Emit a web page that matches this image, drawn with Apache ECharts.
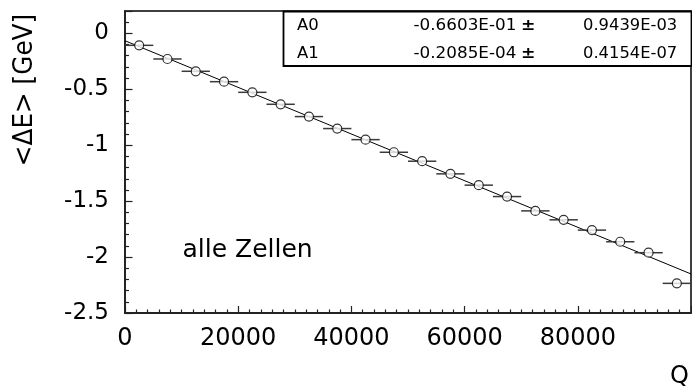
<!DOCTYPE html>
<html>
<head>
<meta charset="utf-8">
<script src="https://cdn.jsdelivr.net/npm/echarts@6/dist/echarts.min.js"></script>
<style>
html,body{margin:0;padding:0;background:#fff;}
#chart{width:692px;height:391px;}
</style>
</head>
<body>
<div id="chart"></div>
<script>
// Data
var binCenters = [2500, 7500, 12500, 17500, 22500, 27500, 32500, 37500, 42500, 47500,
                  52500, 57500, 62500, 67500, 72500, 77500, 82500, 87500, 92500, 97500];
var meanDeltaE = [-0.107, -0.229, -0.339, -0.432, -0.527, -0.634, -0.744, -0.851, -0.950, -1.063,
                  -1.143, -1.256, -1.357, -1.459, -1.587, -1.667, -1.759, -1.863, -1.961, -2.235];
var binHalfWidth = [2500, 2500, 2500, 2500, 2500, 2500, 2500, 2500, 2500, 2500,
                    2500, 2500, 2500, 2500, 2500, 2500, 2500, 2500, 2500, 2500];
var fitLineX = [0, 100000];
var fitLineY = [-0.066, -2.151];
var fitParamNames = ['A0', 'A1'];
var fitParamValues = ['-0.6603E-01', '-0.2085E-04'];
var fitParamErrors = ['0.9439E-03', '0.4154E-07'];
var xTicks = {min: 0, max: 100000, interval: 20000};
var yTicks = {min: -2.5, max: 0.2, interval: 0.5};

var FONT = 'DejaVu Sans';
var chart = echarts.init(document.getElementById('chart'), null, {renderer: 'canvas'});

var pointData = binCenters.map(function (x, i) { return [x, meanDeltaE[i]]; });
var errData = binCenters.map(function (x, i) { return [x, meanDeltaE[i], binHalfWidth[i]]; });
var lineData = fitLineX.map(function (x, i) { return [x, fitLineY[i]]; });

var graphics = [
  {type: 'rect', shape: {x: 283.5, y: 11.5, width: 408, height: 54.5},
    style: {fill: '#fff', stroke: '#000', lineWidth: 1.8}, z: 100}
];
fitParamNames.forEach(function (name, i) {
  var cy = i === 0 ? 26 : 54.5;
  graphics.push({type: 'text', x: 297, y: cy, scaleX: 1.1, z: 101,
    style: {text: name, font: '15px "' + FONT + '"', fill: '#000', align: 'left', verticalAlign: 'middle'}});
  graphics.push({type: 'text', x: 413.5, y: cy, scaleX: 1.12, z: 101,
    style: {text: fitParamValues[i], font: '15px "' + FONT + '"', fill: '#000', align: 'left', verticalAlign: 'middle'}});
  graphics.push({type: 'text', x: 521, y: cy, scaleX: 1.15, z: 101,
    style: {text: '\u00b1', font: 'bold 15px "' + FONT + '"', fill: '#000', align: 'left', verticalAlign: 'middle'}});
  graphics.push({type: 'text', x: 583, y: cy, scaleX: 1.09, z: 101,
    style: {text: fitParamErrors[i], font: '15px "' + FONT + '"', fill: '#000', align: 'left', verticalAlign: 'middle'}});
});
graphics.push({type: 'text', x: 25, y: 90, rotation: Math.PI / 2, scaleX: 0.95, z: 100,
  style: {text: '<\u0394E> [GeV]', font: '26px "' + FONT + '"', fill: '#000', align: 'center', verticalAlign: 'middle'}});
graphics.push({type: 'text', x: 182.5, y: 250, z: 100,
  style: {text: 'alle Zellen', font: '25px "' + FONT + '"', fill: '#000', align: 'left', verticalAlign: 'middle'}});
graphics.push({type: 'text', x: 670, y: 377, z: 100,
  style: {text: 'Q', font: '24px "' + FONT + '"', fill: '#000', align: 'left', verticalAlign: 'middle'}});

var option = {
  animation: false,
  backgroundColor: '#fff',
  grid: {left: 125, right: 1, top: 11, bottom: 78, show: true, borderColor: '#000', borderWidth: 1.5, containLabel: false},
  xAxis: {
    type: 'value', min: xTicks.min, max: xTicks.max, interval: xTicks.interval,
    axisLine: {show: true, onZero: false, lineStyle: {color: '#222', width: 1.8}},
    axisTick: {show: true, inside: true, length: 7, lineStyle: {color: '#222', width: 1.2}},
    minorTick: {show: true, splitNumber: 10, length: 3.5, lineStyle: {color: '#222', width: 1.2}},
    splitLine: {show: false},
    axisLabel: {show: true, showMaxLabel: false, margin: 14, color: '#000', fontFamily: FONT, fontSize: 24,
      formatter: function (v) { return String(v); }}
  },
  yAxis: {
    type: 'value', min: yTicks.min, max: yTicks.max, interval: yTicks.interval,
    axisLine: {show: true, onZero: false, lineStyle: {color: '#222', width: 1.8}},
    axisTick: {show: true, inside: true, length: 7.5, lineStyle: {color: '#222', width: 1.2}},
    minorTick: {show: true, splitNumber: 5, length: 4, lineStyle: {color: '#222', width: 1.2}},
    splitLine: {show: false},
    axisLabel: {show: true, showMaxLabel: false, margin: 16, color: '#000', fontFamily: FONT, fontSize: 23,
      formatter: function (v) { return String(v); }}
  },
  series: [
    {
      type: 'line', data: lineData, symbol: 'none', z: 2,
      lineStyle: {color: '#000', width: 1}, silent: true
    },
    {
      type: 'custom', data: errData, z: 3, silent: true,
      renderItem: function (params, api) {
        var x = api.value(0), y = api.value(1), e = api.value(2);
        var p1 = api.coord([x - e, y]);
        var p2 = api.coord([x + e, y]);
        return {type: 'line', shape: {x1: p1[0], y1: p1[1], x2: p2[0], y2: p2[1]},
          style: {stroke: '#3a3a3a', lineWidth: 1.5}};
      }
    },
    {
      type: 'scatter', data: pointData, z: 4, symbol: 'circle', symbolSize: 9,
      itemStyle: {color: '#fff', borderColor: '#000', borderWidth: 1.2}, silent: true
    }
  ],
  graphic: graphics
};
chart.setOption(option);
</script>
</body>
</html>
